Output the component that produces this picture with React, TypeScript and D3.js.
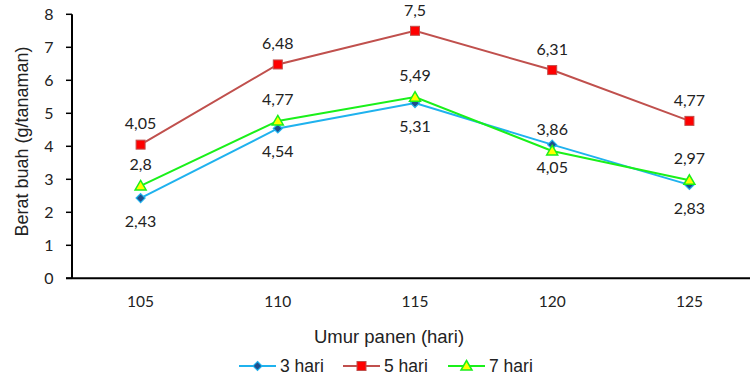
import React from "react";
import * as d3 from "d3";

const categories = ["105", "110", "115", "120", "125"];
const hari3 = [2.43, 4.54, 5.31, 4.05, 2.83];
const hari5 = [4.05, 6.48, 7.5, 6.31, 4.77];
const hari7 = [2.8, 4.77, 5.49, 3.86, 2.97];
const yTicks = [0, 1, 2, 3, 4, 5, 6, 7, 8];
const seriesNames = ["3 hari", "5 hari", "7 hari"];

const FONT = "Lato, 'Open Sans', sans-serif";
const FONT2 = "'Liberation Sans', Arial, sans-serif";

export default function App() {
  const W = 750, H = 376;
  const x0 = 72, x1 = 758;
  const yTop = 14.3, yBot = 278.3;
  const x = d3.scalePoint<string>().domain(categories).range([x0, x1]).padding(0.5);
  const y = d3.scaleLinear().domain([0, 8]).range([yBot, yTop]);
  const line = d3.line<number>().x((_, i) => x(categories[i])!).y((d) => y(d));

  const series = [
    { name: seriesNames[0], data: hari3, stroke: "#1FB2EE", marker: "diamond", fill: "#1F4E8C", mstroke: "#1FB2EE", labelDy: 23 },
    { name: seriesNames[1], data: hari5, stroke: "#C0504D", marker: "square", fill: "#FF0000", mstroke: "#C0504D", labelDy: -21 },
    { name: seriesNames[2], data: hari7, stroke: "#1AF01A", marker: "triangle", fill: "#FFFF00", mstroke: "#1AF01A", labelDy: -22 },
  ];

  const marker = (kind: string, cx: number, cy: number, fill: string, stroke: string, key: any) => {
    if (kind === "square")
      return <rect key={key} x={cx - 4.5} y={cy - 4.5} width={9} height={9} fill={fill} stroke={stroke} strokeWidth={1} />;
    if (kind === "diamond")
      return <path key={key} d={`M${cx},${cy - 4.5}L${cx + 4.5},${cy}L${cx},${cy + 4.5}L${cx - 4.5},${cy}Z`} fill={fill} stroke={stroke} strokeWidth={1.2} />;
    return <path key={key} d={`M${cx},${cy - 5.5}L${cx + 5.5},${cy + 4}L${cx - 5.5},${cy + 4}Z`} fill={fill} stroke={stroke} strokeWidth={1.5} />;
  };

  const fmt = (v: number) => String(v).replace(".", ",");

  const legendItems = [
    { lx: 239, tx: 280 },
    { lx: 343, tx: 384 },
    { lx: 448, tx: 489 },
  ];

  return (
    <svg width={W} height={H} style={{ position: "absolute", left: 0, top: 0, background: "#fff" }} fontFamily={FONT}>
      {yTicks.map((t) => (
        <g key={t}>
          <line x1={66} x2={72} y1={y(t)} y2={y(t)} stroke="#000" strokeWidth={1.5} />
          <text x={49} y={y(t)} dy="0.36em" textAnchor="middle" fontSize={16} fill="#222">{t}</text>
        </g>
      ))}
      <line x1={72} x2={72} y1={y(8)} y2={yBot} stroke="#000" strokeWidth={2} />
      <line x1={66} x2={W} y1={yBot} y2={yBot} stroke="#000" strokeWidth={2} />
      {categories.map((c) => (
        <text key={c} x={x(c)} y={301} dy="0.36em" textAnchor="middle" fontSize={15.5} fill="#222">{c}</text>
      ))}
      <text transform={`translate(22,141.5) rotate(-90)`} textAnchor="middle" dy="0.36em" fontSize={18} fontFamily={FONT2} fill="#222">Berat buah (g/tanaman)</text>
      <text x={389} y={336} dy="0.36em" textAnchor="middle" fontSize={18.5} fontFamily={FONT2} fill="#222">Umur panen (hari)</text>

      {series.map((s) => (
        <g key={s.name}>
          <path d={line(s.data)!} fill="none" stroke={s.stroke} strokeWidth={2} />
          {s.data.map((v, i) => marker(s.marker, x(categories[i])!, y(v), s.fill, s.mstroke, i))}
        </g>
      ))}
      {series.map((s) => (
        <g key={s.name + "l"}>
          {s.data.map((v, i) => (
            <text key={i} x={x(categories[i])} y={y(v) + s.labelDy} dy="0.36em" textAnchor="middle" fontSize={16} fill="#222">{fmt(v)}</text>
          ))}
        </g>
      ))}

      {series.map((s, si) => (
        <g key={s.name + "leg"}>
          <line x1={legendItems[si].lx} x2={legendItems[si].lx + 37} y1={366} y2={366} stroke={s.stroke} strokeWidth={2} />
          {marker(s.marker, legendItems[si].lx + 18.5, 366, s.fill, s.mstroke, "m")}
          <text x={legendItems[si].tx} y={366} dy="0.36em" fontSize={17.5} fontFamily={FONT2} fill="#222">{s.name}</text>
        </g>
      ))}
    </svg>
  );
}
